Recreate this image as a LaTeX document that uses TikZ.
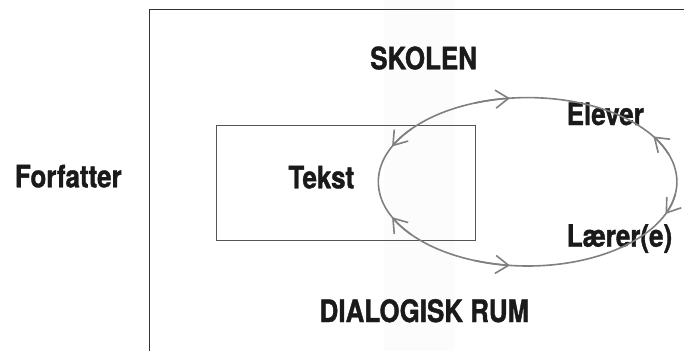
\documentclass[tikz,border=0pt]{standalone}
\usepackage{fontspec}
\setmainfont{TeX Gyre Heros}[FakeStretch=0.84, BoldFeatures={FakeBold=1.2}]
\usetikzlibrary{arrows.meta}

\definecolor{loopgray}{HTML}{808080}
\definecolor{boxgray}{HTML}{555555}
\definecolor{framegray}{HTML}{333333}
\definecolor{textdark}{HTML}{1A1A1A}
\definecolor{bandgray}{HTML}{FCFCFC}

\begin{document}
\begin{tikzpicture}[
  x=1bp, y=1bp,
  lbl/.style={font=\bfseries\fontsize{31}{36}\selectfont, text=textdark, inner sep=0pt},
  framelin/.style={draw=framegray, line width=1.3bp},
  textbox/.style={draw=boxgray, line width=1.2bp, inner sep=0pt},
  looplin/.style={draw=loopgray, line width=1.6bp},
  looparrow/.style={draw=loopgray, line width=1.6bp,
    -{Straight Barb[length=13bp, width=18bp]}},
]
\useasboundingbox (0,0) rectangle (684,351);
\fill[white] (0,0) rectangle (684,351);
\fill[bandgray] (384,0) rectangle (455,351);

% open frame of the school
\coordinate (fbot) at (149.6,0);
\coordinate (fcorner) at (149.6,341.7);
\coordinate (fright) at (684,341.7);
\draw[framelin] (fbot) -- (fcorner) -- (fright);

% the text box
\node[textbox, anchor=north west, minimum width=259bp, minimum height=115bp] (box) at (216,226) {};

% labels
\node[lbl, anchor=base] (skolen) at (423.6,281.7) {SKOLEN};
\node[lbl, anchor=base west] (elever) at (566.6,226) {Elever};
\node[lbl, anchor=base] (tekst) at (321.3,162.7) {Tekst};
\node[lbl, anchor=base west] (laerer) at (566.6,104.3) {Lærer(e)};
\node[lbl, anchor=base] (dialog) at (424.4,29) {DIALOGISK RUM};
\node[lbl, anchor=base] (forf) at (68.3,163.7) {Forfatter};

% dialogue loop
\coordinate (c) at (527.6,169.2);
\draw[looplin] (c) ellipse[x radius=149.3bp, y radius=84.2bp];

% arrow heads along the loop
\foreach \a/\b in {110.8/96.8, 141.2/155.2, 218.8/204.8, 249.2/263.2, 18.6/32.6, -8.5/-22.5}{
  \draw[looparrow] ([shift={(\a:149.3bp and 84.2bp)}]c)
    arc[start angle=\a, end angle=\b, x radius=149.3bp, y radius=84.2bp];
}
\end{tikzpicture}
\end{document}
